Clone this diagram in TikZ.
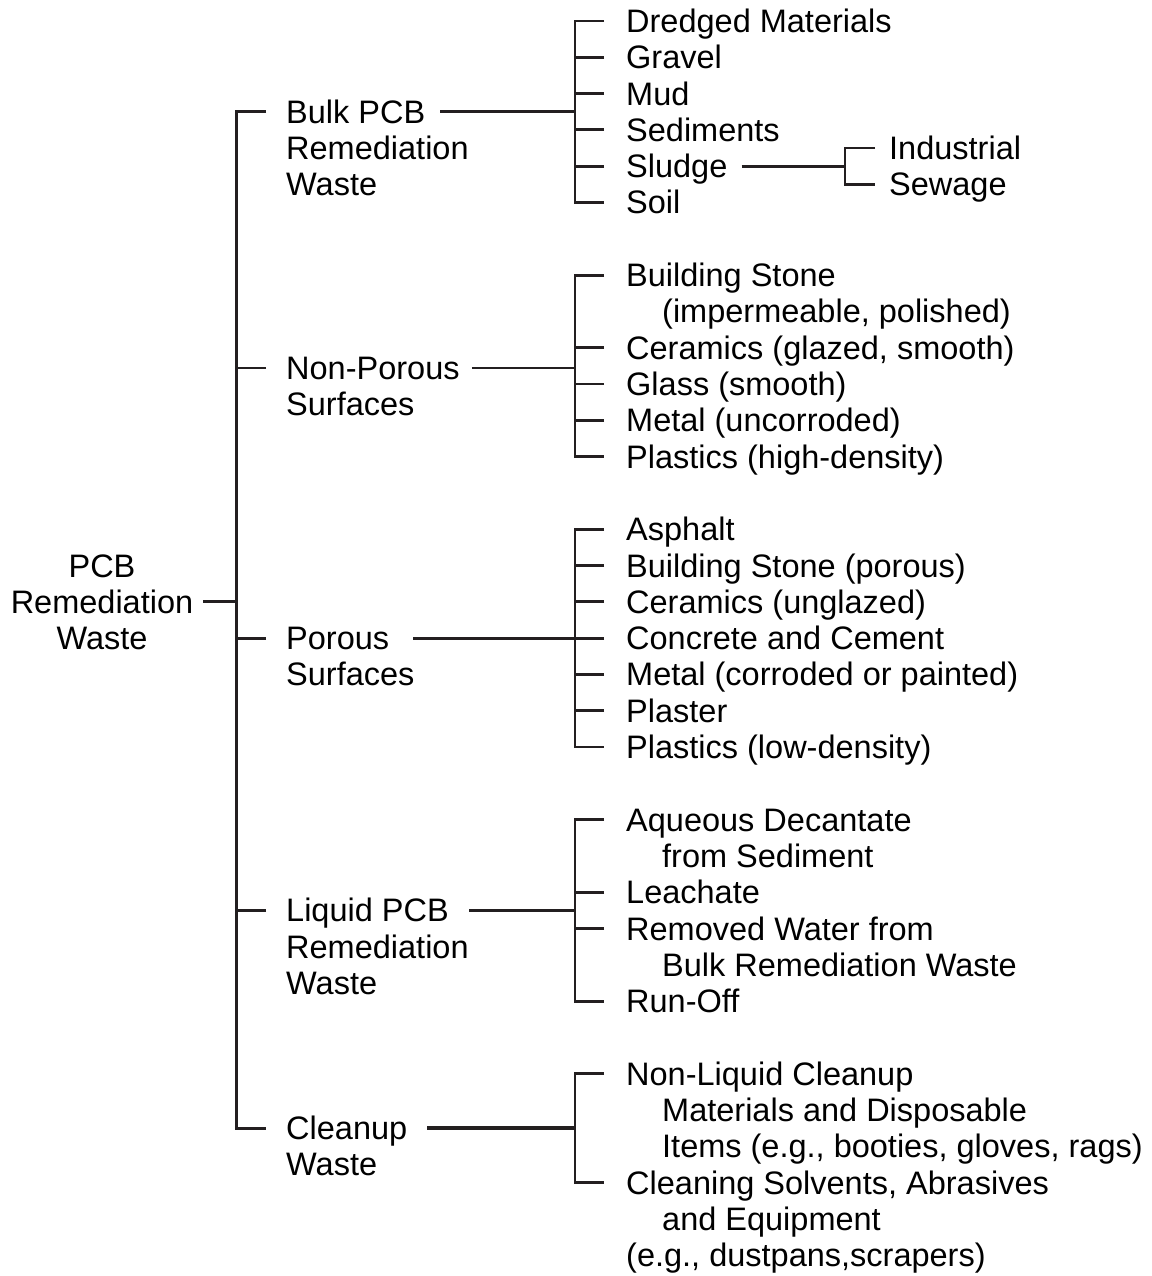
\documentclass[tikz,border=0pt]{standalone}
\usepackage{fontspec}
\setmainfont{Liberation Sans}
\definecolor{lc}{HTML}{231F20}
\def\G#1{21+36.3*#1}
\begin{document}
\begin{tikzpicture}[x=1pt,y=-1pt,
  txt/.style={anchor=west,inner sep=0pt,text height=23pt,text depth=0pt,font=\fontsize{32.5}{36}\selectfont},
  ctxt/.style={txt,anchor=center},
  ln/.style={line width=2.8pt,draw=lc},
  trunk/.style={line width=3pt,draw=lc},
  thick ln/.style={line width=4pt,draw=lc}]
\useasboundingbox (0,0) rectangle (1151,1276);
\coordinate (T) at (236,0);
\coordinate (B) at (575,0);
\coordinate (S) at (845,0);
% root
\node[ctxt] (r1) at (102,{\G{15}}) {PCB};
\node[ctxt] (r2) at (102,{\G{16}}) {Remediation};
\node[ctxt] (r3) at (102,{\G{17}}) {Waste};
% level 2
\node[txt] (b1) at (286,{\G{2.5}}) {Bulk PCB};
\node[txt] (b2) at (286,{\G{3.5}}) {Remediation};
\node[txt] (b3) at (286,{\G{4.5}}) {Waste};
\node[txt] (n1) at (286,368) {Non-Porous};
\node[txt] (n2) at (286,404.3) {Surfaces};
\node[txt] (p1) at (286,{\G{17}}) {Porous};
\node[txt] (p2) at (286,{\G{18}}) {Surfaces};
\node[txt] (l1) at (286,{\G{24.5}}) {Liquid PCB};
\node[txt] (l2) at (286,{\G{25.5}}) {Remediation};
\node[txt] (l3) at (286,{\G{26.5}}) {Waste};
\node[txt] (c1) at (286,{\G{30.5}}) {Cleanup};
\node[txt] (c2) at (286,{\G{31.5}}) {Waste};
% bulk items
\node[txt] (d1) at (626,{\G{0}}) {Dredged Materials};
\node[txt] (d2) at (626,{\G{1}}) {Gravel};
\node[txt] (d3) at (626,{\G{2}}) {Mud};
\node[txt] (d4) at (626,{\G{3}}) {Sediments};
\node[txt] (d5) at (626,{\G{4}}) {Sludge};
\node[txt] (d6) at (626,{\G{5}}) {Soil};
\node[txt] (s1) at (889,{\G{3.5}}) {Industrial};
\node[txt] (s2) at (889,{\G{4.5}}) {Sewage};
% non-porous items
\node[txt] (e1) at (626,{\G{7}}) {Building Stone};
\node[txt] (e1b) at (662,{\G{8}}) {(impermeable, polished)};
\node[txt] (e2) at (626,{\G{9}}) {Ceramics (glazed, smooth)};
\node[txt] (e3) at (626,{\G{10}}) {Glass (smooth)};
\node[txt] (e4) at (626,{\G{11}}) {Metal (uncorroded)};
\node[txt] (e5) at (626,{\G{12}}) {Plastics (high-density)};
% porous items
\node[txt] (f1) at (626,{\G{14}}) {Asphalt};
\node[txt] (f2) at (626,{\G{15}}) {Building Stone (porous)};
\node[txt] (f3) at (626,{\G{16}}) {Ceramics (unglazed)};
\node[txt] (f4) at (626,{\G{17}}) {Concrete and Cement};
\node[txt] (f5) at (626,{\G{18}}) {Metal (corroded or painted)};
\node[txt] (f6) at (626,{\G{19}}) {Plaster};
\node[txt] (f7) at (626,{\G{20}}) {Plastics (low-density)};
% liquid items
\node[txt] (g1) at (626,{\G{22}}) {Aqueous Decantate};
\node[txt] (g1b) at (662,{\G{23}}) {from Sediment};
\node[txt] (g2) at (626,{\G{24}}) {Leachate};
\node[txt] (g3) at (626,{\G{25}}) {Removed Water from};
\node[txt] (g3b) at (662,{\G{26}}) {Bulk Remediation Waste};
\node[txt] (g4) at (626,{\G{27}}) {Run-Off};
% cleanup items
\node[txt] (h1) at (626,{\G{29}}) {Non-Liquid Cleanup};
\node[txt] (h1b) at (662,{\G{30}}) {Materials and Disposable};
\node[txt] (h1c) at (662,{\G{31}}) {Items (e.g., booties, gloves, rags)};
\node[txt] (h2) at (626,{\G{32}}) {Cleaning Solvents, Abrasives};
\node[txt] (h2b) at (662,{\G{33}}) {and Equipment};
\node[txt] (h2c) at (626,{\G{34}}) {(e.g., dustpans,scrapers)};
% root connector and trunk
\draw[ln] ([xshift=10pt]r2.east) -- (r2.east -| T);
\draw[trunk] ([xshift=-20pt]b1.west) -- (b1.west -| T) -- (c1.west -| T) -- ([xshift=-20pt]c1.west);
\foreach \n in {n1,p1,l1} \draw[ln] ([xshift=-20pt]\n.west) -- (\n.west -| T);
% level 2 to brackets
\draw[ln] ([xshift=15pt]b1.east) -- (b1.east -| B);
\draw[ln] ([xshift=12pt]n1.east) -- (n1.east -| B);
\draw[ln] ([xshift=24pt]p1.east) -- (p1.east -| B);
\draw[ln] ([xshift=20pt]l1.east) -- (l1.east -| B);
\draw[thick ln] ([xshift=20pt]c1.east) -- (c1.east -| B);
% brackets
\draw[ln] ([xshift=-22pt]d1.west) -- (d1.west -| B) -- (d6.west -| B) -- ([xshift=-22pt]d6.west);
\foreach \n in {d2,d3,d4,d5} \draw[ln] ([xshift=-22pt]\n.west) -- (\n.west -| B);
\draw[ln] ([xshift=-22pt]e1.west) -- (e1.west -| B) -- (e5.west -| B) -- ([xshift=-22pt]e5.west);
\foreach \n in {e2,e3,e4} \draw[ln] ([xshift=-22pt]\n.west) -- (\n.west -| B);
\draw[ln] ([xshift=-22pt]f1.west) -- (f1.west -| B) -- (f7.west -| B) -- ([xshift=-22pt]f7.west);
\foreach \n in {f2,f3,f4,f5,f6} \draw[ln] ([xshift=-22pt]\n.west) -- (\n.west -| B);
\draw[ln] ([xshift=-22pt]g1.west) -- (g1.west -| B) -- (g4.west -| B) -- ([xshift=-22pt]g4.west);
\foreach \n in {g2,g3} \draw[ln] ([xshift=-22pt]\n.west) -- (\n.west -| B);
\draw[ln] ([xshift=-22pt]h1.west) -- (h1.west -| B) -- (h2.west -| B) -- ([xshift=-22pt]h2.west);
% sludge
\draw[ln] ([xshift=14pt]d5.east) -- (d5.east -| S);
\draw[ln] ([xshift=-14pt]s1.west) -- (s1.west -| S) -- (s2.west -| S) -- ([xshift=-14pt]s2.west);
\end{tikzpicture}
\end{document}
